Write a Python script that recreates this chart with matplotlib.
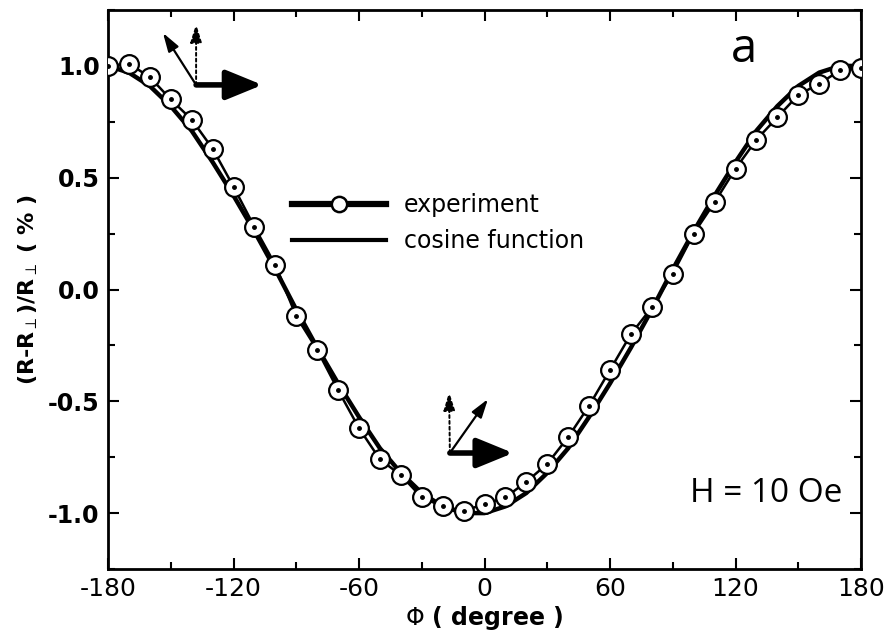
import matplotlib
matplotlib.use("Agg")
import matplotlib.pyplot as plt
from matplotlib.ticker import MultipleLocator, FixedLocator
from matplotlib.lines import Line2D

# ---- data ----
phi_exp = [-180, -170, -160, -150, -140, -130, -120, -110, -100, -90, -80, -70, -60,
           -50, -40, -30, -20, -10, 0, 10, 20, 30, 40, 50, 60, 70, 80, 90, 100,
           110, 120, 130, 140, 150, 160, 170, 180]
r_exp = [1.00, 1.01, 0.95, 0.85, 0.76, 0.63, 0.46, 0.28, 0.11, -0.12, -0.27, -0.45, -0.62,
         -0.76, -0.83, -0.93, -0.97, -0.99, -0.96, -0.93, -0.86, -0.78, -0.66, -0.52, -0.36,
         -0.20, -0.08, 0.07, 0.25, 0.39, 0.54, 0.67, 0.77, 0.87, 0.92, 0.98, 0.99]

phi_cos = [-180, -170, -160, -150, -140, -130, -120, -110, -100, -90, -80, -70, -60,
           -50, -40, -30, -20, -10, 0, 10, 20, 30, 40, 50, 60, 70, 80, 90, 100,
           110, 120, 130, 140, 150, 160, 170, 180]
r_cos = [1.00, 0.97, 0.91, 0.82, 0.71, 0.57, 0.42, 0.26, 0.09, -0.09, -0.26, -0.42, -0.57,
         -0.71, -0.82, -0.91, -0.97, -1.00, -1.00, -0.97, -0.91, -0.82, -0.71, -0.57, -0.42,
         -0.26, -0.09, 0.09, 0.26, 0.42, 0.57, 0.71, 0.82, 0.91, 0.97, 1.00, 1.00]

x_ticks = [-180, -120, -60, 0, 60, 120, 180]
y_ticks = [-1.0, -0.5, 0.0, 0.5, 1.0]
label_exp = "experiment"
label_cos = "cosine function"

fig = plt.figure(figsize=(8.85, 6.35), dpi=100)
ax = fig.add_axes([108/885, 1-569/635, 753/885, 559/635])

ax.plot(phi_cos, r_cos, color="black", lw=3.2, zorder=2)
ax.plot(phi_exp, r_exp, color="black", lw=1.8, zorder=3)
ax.plot(phi_exp, r_exp, linestyle="none", marker="o", ms=13.5, mfc="white",
        mec="black", mew=1.6, zorder=4)
ax.plot(phi_exp, r_exp, linestyle="none", marker="o", ms=2.5, mfc="black",
        mec="black", zorder=5)

h1 = Line2D([], [], color="black", lw=4.5, marker="o", ms=11, mfc="white", mec="black", mew=1.8)
h2 = Line2D([], [], color="black", lw=3)
leg = ax.legend([h1, h2], [label_exp, label_cos], loc="center left",
                bbox_to_anchor=(0.216, 0.619), frameon=False, handlelength=4.0,
                labelspacing=0.5, handletextpad=0.75,
                prop={"family": "DejaVu Sans", "size": 17})

ax.set_xlim(-180, 180)
ax.set_ylim(-1.25, 1.25)
ax.xaxis.set_major_locator(FixedLocator(x_ticks))
ax.xaxis.set_minor_locator(MultipleLocator(30))
ax.yaxis.set_major_locator(FixedLocator(y_ticks))
ax.yaxis.set_minor_locator(MultipleLocator(0.25))
ax.set_xticklabels([str(v) for v in x_ticks], fontsize=18, family="DejaVu Sans")
ax.set_yticklabels(["%.1f" % v for v in y_ticks], fontsize=17, family="DejaVu Sans",
                   fontweight="bold")
ax.tick_params(which="both", direction="in", top=True, right=True, width=1.5)
ax.tick_params(which="major", length=8, pad=6)
ax.tick_params(which="minor", length=5)
for s in ax.spines.values():
    s.set_linewidth(2)

ax.set_xlabel(r"$\Phi$ ( degree )", fontsize=17, fontweight="bold", labelpad=2)
ax.set_ylabel(r"(R-R$_\perp$)/R$_\perp$ ( % )", fontsize=16, fontweight="bold",
              labelpad=6)

ax.text(0.845, 0.93, "a", transform=ax.transAxes, fontsize=34, family="Open Sans",
        ha="center", va="center")
ax.text(0.975, 0.135, "H = 10 Oe", transform=ax.transAxes, fontsize=24,
        family="Open Sans", ha="right", va="center")

def arrows(o, thick, thin, dot):
    ax.annotate("", xy=thick, xytext=o, xycoords="axes fraction",
                arrowprops=dict(arrowstyle="-|>,head_length=1.1,head_width=0.45",
                                lw=4, color="black", shrinkA=0, shrinkB=0,
                                mutation_scale=20))
    ax.annotate("", xy=thin, xytext=o, xycoords="axes fraction",
                arrowprops=dict(arrowstyle="-|>,head_length=0.8,head_width=0.25",
                                lw=1.6, color="black", shrinkA=0, shrinkB=0,
                                mutation_scale=14))
    ax.annotate("", xy=dot, xytext=o, xycoords="axes fraction",
                arrowprops=dict(arrowstyle="-|>,head_length=0.8,head_width=0.25",
                                lw=1.4, color="black", linestyle=(0, (1.5, 1.5)),
                                shrinkA=0, shrinkB=0, mutation_scale=14))

arrows((0.117, 0.866), (0.205, 0.866), (0.073, 0.959), (0.117, 0.975))
arrows((0.454, 0.2075), (0.538, 0.2075), (0.5046, 0.304), (0.453, 0.3166))

fig.savefig("out.png", dpi=100)
